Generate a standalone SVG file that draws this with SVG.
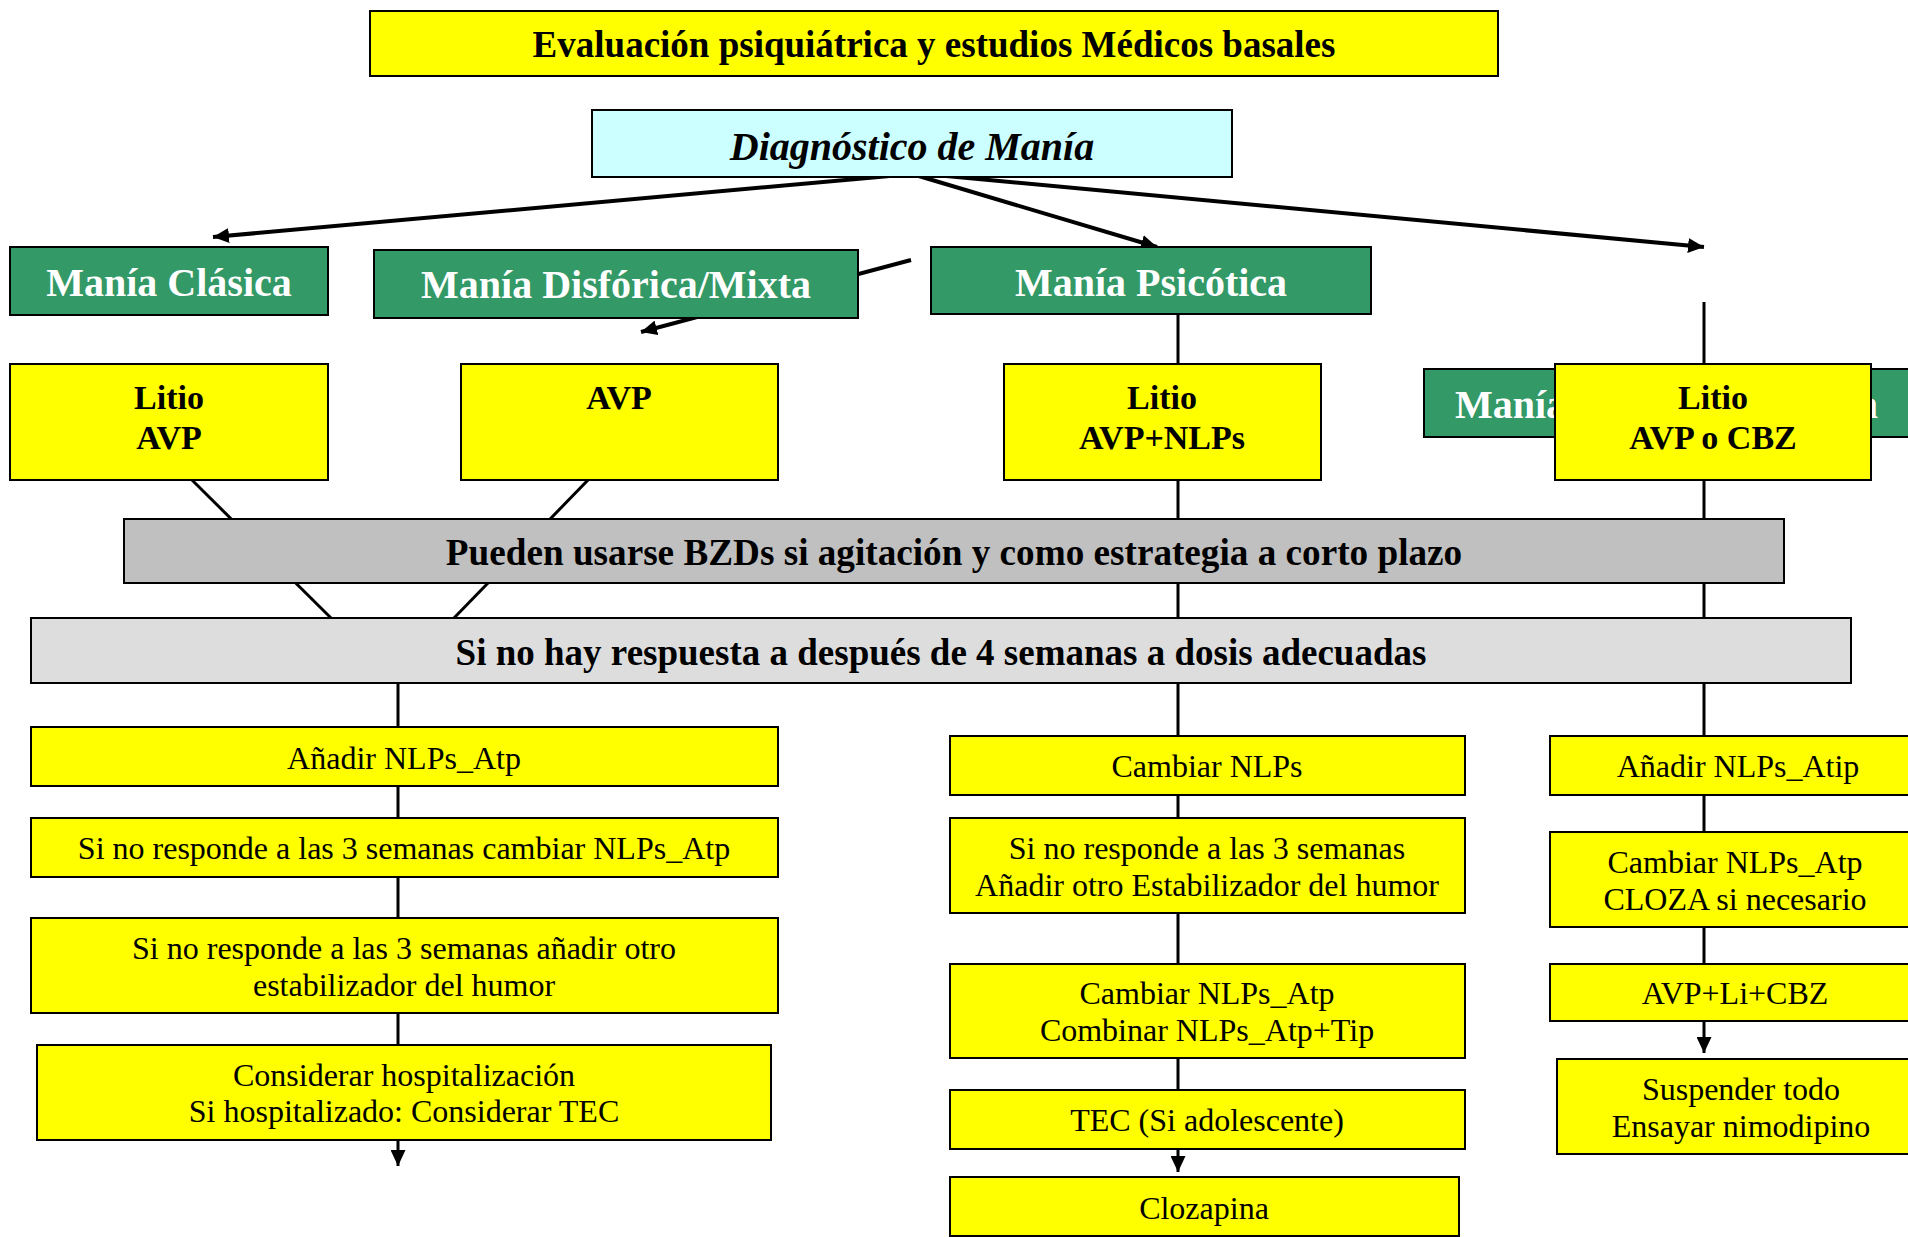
<svg xmlns="http://www.w3.org/2000/svg" width="1908" height="1237" viewBox="0 0 1908 1237">
<style>
  .box { stroke: #000; stroke-width: 2; }
  .yel { fill: #FFFF00; }
  .cyan { fill: #CCFFFF; }
  .green { fill: #339966; }
  .gray { fill: #C0C0C0; }
  .lgray { fill: #DDDDDD; }
  text { font-family: "Liberation Serif", "Times New Roman", serif; text-anchor: middle; fill: #000; }
  .t37b { font-size: 37px; font-weight: bold; }
  .t37w { font-size: 37.2px; font-weight: bold; }
  .t40g { font-size: 40px; font-weight: bold; fill: #FFFFFF; }
  .t34b { font-size: 34px; font-weight: bold; }
  .t32 { font-size: 32px; }
  .conn { stroke: #000; fill: none; }
  .thick { stroke-width: 4; }
  .thin { stroke-width: 3; }
</style>
<defs>
  <marker id="ah" markerUnits="userSpaceOnUse" markerWidth="17" markerHeight="15" refX="16" refY="7.5" orient="auto">
    <path d="M0,0 L16,7.5 L0,15 z" fill="#000"/>
  </marker>
</defs>
<rect width="1908" height="1237" fill="#FFFFFF"/>
<g id="connectors">
  <line class="conn thick" x1="912" y1="174" x2="213" y2="237" marker-end="url(#ah)"/>
  <line class="conn thick" x1="911" y1="260" x2="641" y2="332" marker-end="url(#ah)"/>
  <line class="conn thick" x1="912" y1="174" x2="1157" y2="247" marker-end="url(#ah)"/>
  <line class="conn thick" x1="925" y1="174" x2="1704" y2="247" marker-end="url(#ah)"/>
  <line class="conn thin" x1="192" y1="480" x2="331" y2="618"/>
  <line class="conn thin" x1="588" y1="480" x2="454" y2="618"/>
  <line class="conn thin" x1="398" y1="683" x2="398" y2="1166" marker-end="url(#ah)"/>
  <line class="conn thin" x1="1178" y1="314" x2="1178" y2="1172" marker-end="url(#ah)"/>
  <line class="conn thin" x1="1704" y1="302" x2="1704" y2="1053" marker-end="url(#ah)"/>
</g>
<g id="n_eval"><rect class="box yel" x="370" y="11" width="1128" height="65"/><text class="t37b" x="934" y="56.5">Evaluación psiquiátrica y estudios Médicos basales</text></g>
<g id="n_diag"><rect class="box cyan" x="592" y="110" width="640" height="67"/><text x="912" y="159.5" style="font-size:40px;font-weight:bold;font-style:italic">Diagnóstico de Manía</text></g>
<g id="n_clasica"><rect class="box green" x="10" y="247" width="318" height="68"/><text class="t40g" x="169" y="296">Manía Clásica</text></g>
<g id="n_disforica"><rect class="box green" x="374" y="250" width="484" height="68"/><text class="t40g" x="616" y="298">Manía Disfórica/Mixta</text></g>
<g id="n_psicotica"><rect class="box green" x="931" y="247" width="440" height="67"/><text class="t40g" x="1151" y="296">Manía Psicótica</text></g>
<g id="n_mania4"><rect class="box green" x="1424" y="369" width="490" height="68"/><text class="t40g" x="1455" y="418" style="text-anchor:start">Manía</text><text class="t40g" x="1878" y="418" style="text-anchor:end">a</text></g>
<g id="n_litio_avp"><rect class="box yel" x="10" y="364" width="318" height="116"/><text class="t34b" x="169" y="408.5">Litio</text><text class="t34b" x="169" y="448.5">AVP</text></g>
<g id="n_avp"><rect class="box yel" x="461" y="364" width="317" height="116"/><text class="t34b" x="619" y="408.5">AVP</text></g>
<g id="n_litio_nlps"><rect class="box yel" x="1004" y="364" width="317" height="116"/><text class="t34b" x="1162" y="408.5">Litio</text><text class="t34b" x="1162" y="448.5">AVP+NLPs</text></g>
<g id="n_litio_cbz"><rect class="box yel" x="1555" y="364" width="316" height="116"/><text class="t34b" x="1713" y="408.5">Litio</text><text class="t34b" x="1713" y="448.5">AVP o CBZ</text></g>
<g id="n_bzd"><rect class="box gray" x="124" y="519" width="1660" height="64"/><text class="t37w" x="954" y="564.5">Pueden usarse BZDs si agitación y como estrategia a corto plazo</text></g>
<g id="n_norespuesta"><rect class="box lgray" x="31" y="618" width="1820" height="65"/><text class="t37b" x="941" y="664.5">Si no hay respuesta a después de 4 semanas a dosis adecuadas</text></g>
<g id="n_l1"><rect class="box yel" x="31" y="727" width="747" height="59"/><text class="t32" x="404" y="768.5">Añadir NLPs_Atp</text></g>
<g id="n_l2"><rect class="box yel" x="31" y="818" width="747" height="59"/><text class="t32" x="404" y="858.5">Si no responde a las 3 semanas cambiar NLPs_Atp</text></g>
<g id="n_l3"><rect class="box yel" x="31" y="918" width="747" height="95"/><text class="t32" x="404" y="958.5">Si no responde a las 3 semanas añadir otro</text><text class="t32" x="404" y="995.5">estabilizador del humor</text></g>
<g id="n_l4"><rect class="box yel" x="37" y="1045" width="734" height="95"/><text class="t32" x="404" y="1085.5">Considerar hospitalización</text><text class="t32" x="404" y="1121.5">Si hospitalizado: Considerar TEC</text></g>
<g id="n_m1"><rect class="box yel" x="950" y="736" width="515" height="59"/><text class="t32" x="1207" y="776.5">Cambiar NLPs</text></g>
<g id="n_m2"><rect class="box yel" x="950" y="818" width="515" height="95"/><text class="t32" x="1207" y="858.5">Si no responde a las 3 semanas</text><text class="t32" x="1207" y="895.5">Añadir otro Estabilizador del humor</text></g>
<g id="n_m3"><rect class="box yel" x="950" y="964" width="515" height="94"/><text class="t32" x="1207" y="1003.5">Cambiar NLPs_Atp</text><text class="t32" x="1207" y="1040.5">Combinar NLPs_Atp+Tip</text></g>
<g id="n_m4"><rect class="box yel" x="950" y="1090" width="515" height="59"/><text class="t32" x="1207" y="1130.5">TEC (Si adolescente)</text></g>
<g id="n_m5"><rect class="box yel" x="950" y="1177" width="509" height="59"/><text class="t32" x="1204" y="1218.5">Clozapina</text></g>
<g id="n_r1"><rect class="box yel" x="1550" y="736" width="375" height="59"/><text class="t32" x="1738" y="776.5">Añadir NLPs_Atip</text></g>
<g id="n_r2"><rect class="box yel" x="1550" y="832" width="375" height="95"/><text class="t32" x="1735" y="872.5">Cambiar NLPs_Atp</text><text class="t32" x="1735" y="909.5">CLOZA si necesario</text></g>
<g id="n_r3"><rect class="box yel" x="1550" y="964" width="375" height="57"/><text class="t32" x="1735" y="1003.5">AVP+Li+CBZ</text></g>
<g id="n_r4"><rect class="box yel" x="1557" y="1059" width="370" height="95"/><text class="t32" x="1741" y="1099.5">Suspender todo</text><text class="t32" x="1741" y="1136.5">Ensayar nimodipino</text></g>
</svg>
